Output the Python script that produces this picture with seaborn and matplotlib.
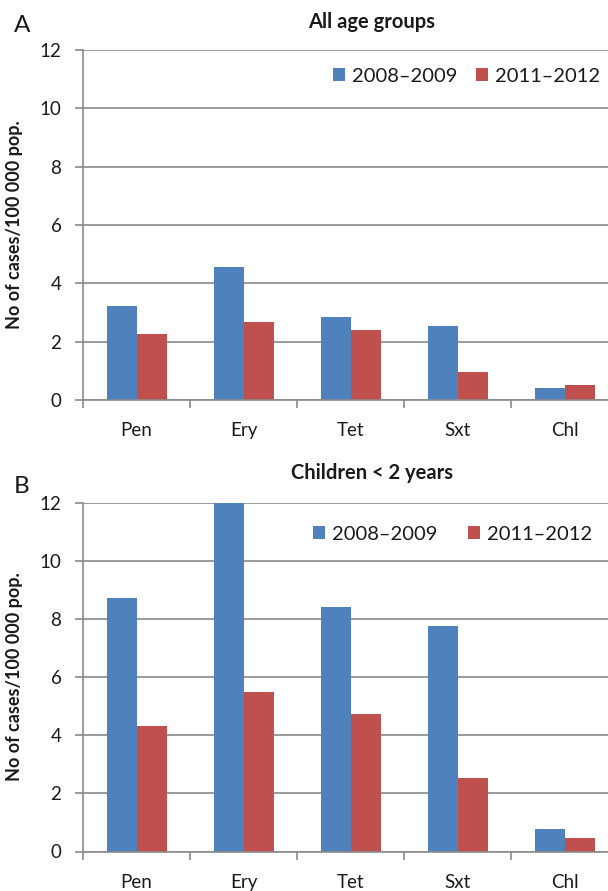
import matplotlib
matplotlib.use("Agg")
import matplotlib.pyplot as plt
import seaborn as sns
import pandas as pd
from matplotlib.ticker import FixedLocator, NullFormatter

# Antibiotic classes
drugs = ["Pen", "Ery", "Tet", "Sxt", "Chl"]
periods = ["2008\u20132009", "2011\u20132012"]

# Panel A: all age groups (cases per 100 000 population)
all_ages_0809 = [3.23, 4.57, 2.86, 2.55, 0.41]
all_ages_1112 = [2.25, 2.66, 2.41, 0.96, 0.52]

# Panel B: children under 2 years
children_0809 = [8.73, 12.0, 8.41, 7.75, 0.77]
children_1112 = [4.32, 5.49, 4.74, 2.52, 0.48]

sns.set_theme(style="white")
plt.rcParams["font.family"] = ["Lato", "DejaVu Sans"]

palette = {periods[0]: "#4F81BD", periods[1]: "#C0504D"}
grid_col = "#8a8a8a"
text_col = "#1a1a1a"


def long_frame(v1, v2):
    return pd.DataFrame({
        "drug": drugs * 2,
        "period": [periods[0]] * len(drugs) + [periods[1]] * len(drugs),
        "rate": list(v1) + list(v2),
    })


fig = plt.figure(figsize=(6.08, 8.91), dpi=100)
W, H = 608.0, 891.0

panels = [
    # letter, title, series, axes top/bottom (px), title y, letter y,
    # legend anchor (px), column spacing
    ("A", "All age groups", all_ages_0809, all_ages_1112, 50, 400, 22, 25,
     (339, 76), 0.95),
    ("B", "Children < 2 years", children_0809, children_1112, 502.5, 851.5,
     473, 487, (319, 534), 1.55),
]

for (letter, title, v1, v2, top_px, bot_px, title_y, letter_y,
     leg_xy, colsp) in panels:
    ax = fig.add_axes([83 / W, 1 - bot_px / H, 535.5 / W, (bot_px - top_px) / H])
    df = long_frame(v1, v2)
    sns.barplot(data=df, x="drug", y="rate", hue="period", order=drugs,
                hue_order=periods, palette=palette, width=0.56,
                saturation=1.0, ax=ax, zorder=3, linewidth=0)
    ax.set_xlim(-0.5, len(drugs) - 0.5)
    ax.set_ylim(0, 12)
    ax.set_yticks(range(0, 13, 2))
    ax.yaxis.grid(True, color=grid_col, linewidth=1.2, zorder=0)
    ax.set_axisbelow(True)
    for s in ["top", "right"]:
        ax.spines[s].set_visible(False)
    for s in ["left", "bottom"]:
        ax.spines[s].set_color(grid_col)
        ax.spines[s].set_linewidth(1.2)
        ax.spines[s].set_zorder(4)

    # category separators below the axis
    ax.xaxis.set_minor_locator(FixedLocator([i - 0.5 for i in range(len(drugs) + 1)]))
    ax.xaxis.set_minor_formatter(NullFormatter())
    ax.tick_params(axis="x", which="minor", bottom=True, length=5.5,
                   width=1.2, color=grid_col, direction="out")
    ax.tick_params(axis="x", which="major", bottom=True, length=0, pad=16,
                   labelsize=13.5, labelcolor=text_col)
    ax.tick_params(axis="y", which="major", left=True, length=5.5, width=1.2,
                   color=grid_col, direction="out", pad=10, labelsize=13.5,
                   labelcolor=text_col)

    ax.set_xlabel("")
    ax.set_ylabel("No of cases/100 000 pop.", fontsize=13, fontweight="bold",
                  color=text_col)
    ax.yaxis.set_label_coords(-0.112, 0.5)

    leg = ax.legend(loc="center left",
                    bbox_to_anchor=((leg_xy[0] - 83) / 535.5 - 0.012,
                                    (bot_px - leg_xy[1]) / (bot_px - top_px)),
                    ncol=2, frameon=False, fontsize=14.5, handlelength=0.6,
                    handleheight=0.6, handletextpad=0.35, columnspacing=colsp,
                    borderaxespad=0, borderpad=0)
    for t in leg.get_texts():
        t.set_color(text_col)

    fig.text(372 / W, 1 - title_y / H, title, ha="center", va="center",
             fontsize=14.5, fontweight="bold", color=text_col)
    fig.text(14 / W, 1 - letter_y / H, letter, ha="left", va="center",
             fontsize=17.5, color=text_col)

fig.savefig("out.png", dpi=100)
